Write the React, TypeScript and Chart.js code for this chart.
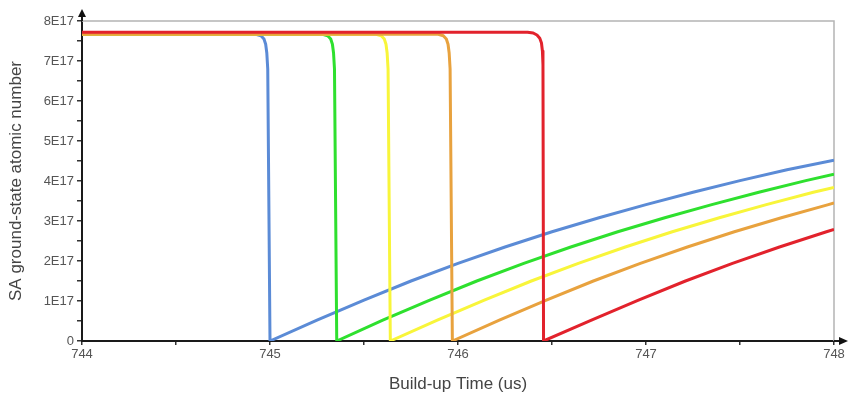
import React, { useEffect, useRef } from 'react';
import { Chart, registerables } from 'chart.js';

Chart.register(...registerables);

// Values in units of 1E17 atoms
const blueTime = [744, 744.925, 744.952, 744.968, 744.977, 744.983, 744.988, 745.0, 745.25, 745.5, 745.75, 746.0, 746.25, 746.5, 746.75, 747.0, 747.25, 747.5, 747.75, 748];
const blueValue = [7.67, 7.67, 7.63, 7.55, 7.42, 7.2, 6.8, 0, 0.52, 1.02, 1.5, 1.94, 2.35, 2.73, 3.08, 3.41, 3.72, 4.01, 4.28, 4.52];

const greenTime = [744, 745.28, 745.307, 745.323, 745.332, 745.338, 745.343, 745.355, 745.6, 745.85, 746.1, 746.35, 746.6, 746.85, 747.1, 747.35, 747.6, 747.85, 748];
const greenValue = [7.67, 7.67, 7.63, 7.55, 7.42, 7.2, 6.8, 0, 0.52, 1.02, 1.5, 1.94, 2.35, 2.73, 3.08, 3.41, 3.72, 4.01, 4.17];

const yellowTime = [744, 745.565, 745.592, 745.608, 745.617, 745.623, 745.628, 745.64, 745.89, 746.14, 746.39, 746.64, 746.89, 747.14, 747.39, 747.64, 747.89, 748];
const yellowValue = [7.67, 7.67, 7.63, 7.55, 7.42, 7.2, 6.8, 0, 0.52, 1.02, 1.5, 1.94, 2.35, 2.73, 3.08, 3.41, 3.72, 3.84];

const orangeTime = [744, 745.895, 745.922, 745.938, 745.947, 745.953, 745.958, 745.97, 746.22, 746.47, 746.72, 746.97, 747.22, 747.47, 747.72, 747.97, 748];
const orangeValue = [7.67, 7.67, 7.63, 7.55, 7.42, 7.2, 6.8, 0, 0.52, 1.02, 1.5, 1.94, 2.35, 2.73, 3.08, 3.41, 3.45];

const redTime = [744, 746.37, 746.4, 746.42, 746.435, 746.444, 746.449, 746.452, 746.455, 746.71, 746.96, 747.21, 747.46, 747.71, 747.96, 748];
const redValue = [7.72, 7.72, 7.70, 7.65, 7.57, 7.45, 7.25, 6.9, 0, 0.52, 1.02, 1.5, 1.94, 2.35, 2.73, 2.79];

const xMin = 744;
const xMax = 748;
const yMin = 0;
const yMax = 8;
const yUnitSuffix = 'E17';
const xTitle = 'Build-up Time (us)';
const yTitle = 'SA ground-state atomic number';

const toPoints = (xs: number[], ys: number[]) => xs.map((x, i) => ({ x, y: ys[i] }));

const FONT = "'Liberation Sans', Arial, sans-serif";

const framePlugin = {
  id: 'frame',
  beforeDatasetsDraw(chart: any) {
    const { ctx, chartArea } = chart;
    const { left, right, top, bottom } = chartArea;
    ctx.save();
    ctx.strokeStyle = '#b4b4b4';
    ctx.lineWidth = 1.5;
    ctx.beginPath();
    ctx.moveTo(left, top);
    ctx.lineTo(right, top);
    ctx.lineTo(right, bottom);
    ctx.stroke();
    ctx.restore();
  },
  afterDraw(chart: any) {
    const { ctx, chartArea } = chart;
    const { left, right, top, bottom } = chartArea;
    ctx.save();
    ctx.strokeStyle = '#1a1a1a';
    ctx.lineWidth = 2;
    ctx.beginPath();
    ctx.moveTo(left, top);
    ctx.lineTo(left, top - 6);
    ctx.moveTo(right, bottom);
    ctx.lineTo(right + 6, bottom);
    ctx.stroke();
    ctx.fillStyle = '#111';
    ctx.beginPath();
    ctx.moveTo(left, top - 12);
    ctx.lineTo(left - 4, top - 4);
    ctx.lineTo(left + 4, top - 4);
    ctx.closePath();
    ctx.fill();
    ctx.beginPath();
    ctx.moveTo(right + 14, bottom);
    ctx.lineTo(right + 5, bottom - 4);
    ctx.lineTo(right + 5, bottom + 4);
    ctx.closePath();
    ctx.fill();
    ctx.restore();
  },
};

export default function App() {
  const ref = useRef<HTMLCanvasElement | null>(null);

  useEffect(() => {
    if (!ref.current) return;
    const common = {
      pointRadius: 0,
      borderWidth: 3,
      fill: false,
      tension: 0,
      borderJoinStyle: 'round' as const,
    };
    const chart = new Chart(ref.current, {
      type: 'line',
      data: {
        datasets: [
          { ...common, label: 'A', data: toPoints(blueTime, blueValue), borderColor: '#5b8bd6', order: 5 },
          { ...common, label: 'B', data: toPoints(greenTime, greenValue), borderColor: '#2ee02e', order: 4 },
          { ...common, label: 'C', data: toPoints(yellowTime, yellowValue), borderColor: '#f8f53a', order: 3 },
          { ...common, label: 'D', data: toPoints(orangeTime, orangeValue), borderColor: '#e8a23e', order: 2 },
          { ...common, label: 'E', data: toPoints(redTime, redValue), borderColor: '#e2222c', order: 1 },
        ],
      },
      options: {
        responsive: false,
        animation: false,
        events: [],
        layout: { padding: { top: 21, right: 17, left: 0, bottom: 0 } },
        plugins: {
          legend: { display: false },
          tooltip: { enabled: false },
        },
        scales: {
          x: {
            type: 'linear',
            min: xMin,
            max: xMax,
            afterFit: (s: any) => { s.height = 60; },
            border: { display: true, color: '#1a1a1a', width: 2 },
            grid: { drawOnChartArea: false, drawTicks: true, tickLength: 4, color: '#333', lineWidth: 1.5 },
            ticks: {
              stepSize: 0.5,
              autoSkip: false,
              maxRotation: 0,
              padding: 2,
              color: '#555',
              font: { family: FONT, size: 13 },
              callback: (v: any) => (Number.isInteger(Number(v)) ? String(v) : ''),
            },
            title: {
              display: true,
              text: xTitle,
              color: '#444',
              font: { family: FONT, size: 17 },
              padding: { top: 0, bottom: 6 },
            },
          },
          y: {
            type: 'linear',
            min: yMin,
            max: yMax,
            afterFit: (s: any) => { s.width = 82; },
            border: { display: true, color: '#1a1a1a', width: 2 },
            grid: { drawOnChartArea: false, drawTicks: true, tickLength: 5, color: '#333', lineWidth: 1.5 },
            ticks: {
              stepSize: 0.5,
              autoSkip: false,
              padding: 3,
              color: '#555',
              font: { family: FONT, size: 13 },
              callback: (v: any) => {
                const n = Number(v);
                if (!Number.isInteger(n)) return '';
                return n === 0 ? '0' : n + yUnitSuffix;
              },
            },
            title: {
              display: true,
              text: yTitle,
              color: '#444',
              font: { family: FONT, size: 17 },
              padding: { top: 6, bottom: 0 },
            },
          },
        },
      },
      plugins: [framePlugin],
    });
    return () => chart.destroy();
  }, []);

  return (
    <div style={{ position: 'absolute', left: 0, top: 0, width: 851, height: 401, background: '#fff' }}>
      <canvas ref={ref} width={851} height={401} style={{ display: 'block' }} />
    </div>
  );
}
